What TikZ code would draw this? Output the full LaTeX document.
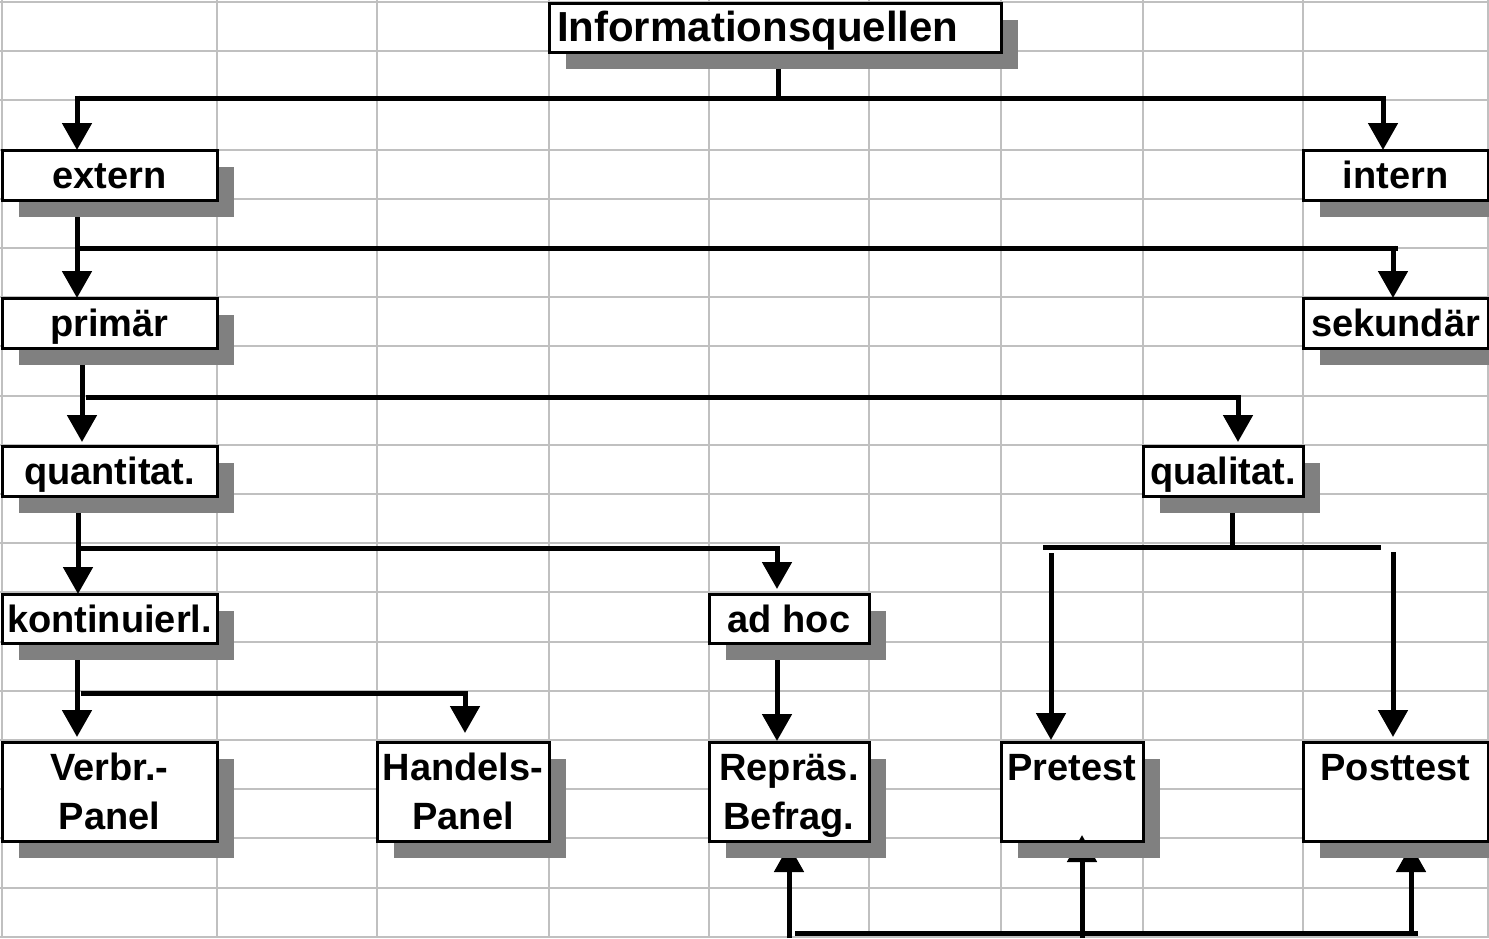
\documentclass[tikz,border=0pt]{standalone}
\usepackage{fontspec}
\setmainfont{Liberation Sans}
\usetikzlibrary{arrows.meta}

% one text row of a box: fixed height and depth so every row is one grid cell tall
\newcommand\cellrow[1]{\raisebox{0pt}[38pt][11pt]{#1}}

\definecolor{gridgray}{HTML}{C0C0C0}
\definecolor{shadowgray}{HTML}{808080}

\pgfdeclarelayer{grid}
\pgfdeclarelayer{shade}
\pgfdeclarelayer{front}
\pgfsetlayers{grid,shade,main,front}

\begin{document}
\begin{tikzpicture}[x=1pt,y=-1pt,
  gridline/.style={draw=gridgray,line width=2pt},
  box/.style={draw=black,line width=3pt,fill=white,inner sep=0pt,outer sep=0pt,
    align=center,font=\bfseries\fontsize{38}{49}\selectfont},
  wire/.style={line width=5pt},
  arrowline/.style={line width=5pt,-{Triangle[width=29pt,length=27pt]}},
  shadowfill/.style={fill=shadowgray}
]
\useasboundingbox (0,0) rectangle (1489,938);

% spreadsheet cell grid
\begin{pgfonlayer}{grid}
  \foreach \gx in {2,217,377,549,709,869,1001,1143,1303,1488}
    \draw[gridline] (\gx,0) -- (\gx,938);
  \foreach \k in {0,...,19}
    \draw[gridline] (0,{2+49.2*\k}) -- (1489,{2+49.2*\k});
\end{pgfonlayer}

% boxes
\node[box,text width=436pt,align=left,inner xsep=8pt,minimum height=49pt,
      font=\bfseries\fontsize{42}{49}\selectfont] (title) at (775,27.5)
      {\cellrow{Informationsquellen}};
\node[box,minimum width=215pt,minimum height=50pt] (ext)   at (109.5,175)  {\cellrow{extern}};
\node[box,minimum width=185pt,minimum height=50pt] (int)   at (1395.5,175) {\cellrow{intern}};
\node[box,minimum width=215pt,minimum height=50pt] (prim)  at (109.5,323)  {\cellrow{primär}};
\node[box,minimum width=185pt,minimum height=50pt] (sek)   at (1395.5,323) {\cellrow{sekundär}};
\node[box,minimum width=215pt,minimum height=50pt] (quant) at (109.5,471)  {\cellrow{quantitat.}};
\node[box,minimum width=160pt,minimum height=50pt] (qual)  at (1223,471)   {\cellrow{qualitat.}};
\node[box,minimum width=215pt,minimum height=49pt] (kont)  at (109.5,618.5) {\cellrow{kontinuierl.}};
\node[box,minimum width=160pt,minimum height=49pt] (adhoc) at (789,618.5)  {\cellrow{ad hoc}};
\node[box,minimum width=215pt,minimum height=99pt] (verbr) at (109.5,791.5) {\cellrow{Verbr.-}\\\cellrow{Panel}};
\node[box,minimum width=172pt,minimum height=99pt] (handel) at (463,791.5) {\cellrow{Handels-}\\\cellrow{Panel}};
\node[box,minimum width=160pt,minimum height=99pt] (repr)  at (789,791.5)  {\cellrow{Repräs.}\\\cellrow{Befrag.}};
\node[box,minimum width=142pt,minimum height=99pt] (pre)   at (1072,791.5) {\cellrow{Pretest}\\\cellrow{}};
\node[box,minimum width=185pt,minimum height=99pt] (post)  at (1395.5,791.5) {\cellrow{Posttest}\\\cellrow{}};

% drop shadows behind the boxes
\begin{pgfonlayer}{shade}
  \foreach \n in {title,ext,int,prim,sek,quant,qual,kont,adhoc,verbr,handel,repr,pre,post}
    \fill[shadowfill] ([shift={(17,17)}]\n.north west) rectangle ([shift={(17,17)}]\n.south east);
\end{pgfonlayer}

% Informationsquellen -> extern / intern
\draw[wire] ([shift={(3,17)}]title.south) -- (778,98);
\draw[arrowline] (77,98) -- (1383,98) -- (1383,0 |- int.north);
\draw[arrowline] (77,95.5) -- (77,0 |- ext.north);

% extern -> primaer / sekundaer
\draw[arrowline] ([shift={(-32.5,17)}]ext.south) -- (77,0 |- prim.north);
\draw[wire] (77,248) -- (1398,248);
\draw[arrowline] (1393,245.5) -- (1393,0 |- sek.north);

% primaer -> quantitat. / qualitat.
\draw[arrowline] ([shift={(-27.5,17)}]prim.south) -- (82,442);
\draw[arrowline] (86,397) -- (1238,397) -- (1238,442);

% quantitat. -> kontinuierl. / ad hoc
\draw[arrowline] ([shift={(-31.5,17)}]quant.south) -- (78,0 |- kont.north);
\draw[arrowline] (78,548) -- (777,548) -- (777,589);

% qualitat. -> Pretest / Posttest
\draw[wire] ([shift={(9,17)}]qual.south) -- (1232,547);
\draw[wire] (1043,547) -- (1381,547);
\draw[arrowline] (1051,553) -- (1051,740);
\draw[arrowline] (1393,552) -- (1393,737);

% ad hoc -> Repraes. Befrag.
\draw[arrowline] ([shift={(-12,17)}]adhoc.south) -- (777,741);

% kontinuierl. -> Verbr.-Panel / Handels-Panel
\draw[arrowline] ([shift={(-32.5,17)}]kont.south) -- (77,737);
\draw[arrowline] (81,693) -- (465,693) -- (465,733);

% feedback line along the bottom into the three survey boxes
\draw[wire] (795,933) -- (1418,933);
\draw[arrowline] (789,938) -- (789,845);
\draw[arrowline] (1082,938) -- (1082,835);
\draw[arrowline] (1411,935.5) -- (1411,845);

% lower shadow strips lie over the feedback arrow heads
\begin{pgfonlayer}{front}
  \foreach \n in {repr,pre,post}
    \fill[shadowfill] ([shift={(17,1.5)}]\n.south west) rectangle ([shift={(17,17)}]\n.south east);
\end{pgfonlayer}
\end{tikzpicture}
\end{document}
